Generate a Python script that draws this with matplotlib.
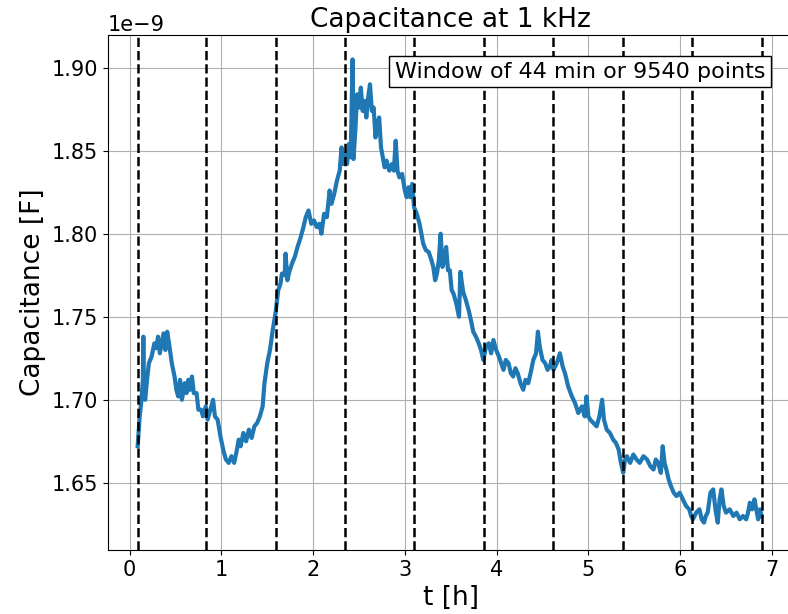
import matplotlib
matplotlib.use("Agg")
import matplotlib.pyplot as plt

# time in hours and capacitance in nF
t_h = [0.088, 0.11, 0.13, 0.145, 0.15, 0.155, 0.17, 0.19, 0.21, 0.24, 0.27, 0.29, 0.31, 0.33, 0.35,
       0.37, 0.39, 0.41, 0.43, 0.46, 0.49, 0.51, 0.53, 0.55, 0.57, 0.60, 0.62, 0.64, 0.66, 0.68,
       0.70, 0.73, 0.75, 0.78, 0.80, 0.83, 0.85, 0.88, 0.91, 0.93, 0.96, 0.99, 1.02, 1.05, 1.08,
       1.11, 1.14, 1.17, 1.19, 1.21, 1.24, 1.27, 1.30, 1.33, 1.36, 1.39, 1.42, 1.45, 1.47, 1.50,
       1.53, 1.56, 1.59, 1.62, 1.645, 1.66, 1.69, 1.70, 1.72, 1.74, 1.77, 1.80, 1.83, 1.86, 1.89,
       1.92, 1.95, 1.98, 2.01, 2.04, 2.07, 2.09, 2.12, 2.15, 2.18, 2.20, 2.23, 2.26, 2.29, 2.31,
       2.33, 2.35, 2.37, 2.39, 2.41, 2.43, 2.44, 2.46, 2.48, 2.50, 2.52, 2.54, 2.56, 2.58, 2.60,
       2.62, 2.64, 2.66, 2.68, 2.70, 2.72, 2.74, 2.76, 2.78, 2.80, 2.83, 2.86, 2.88, 2.90, 2.92,
       2.94, 2.97, 3.00, 3.02, 3.04, 3.06, 3.08, 3.10, 3.13, 3.16, 3.18, 3.20, 3.23, 3.26, 3.29,
       3.31, 3.33, 3.35, 3.37, 3.39, 3.41, 3.43, 3.45, 3.47, 3.49, 3.51, 3.53, 3.56, 3.59, 3.605,
       3.635, 3.665, 3.695, 3.72, 3.745, 3.775, 3.805, 3.83, 3.855, 3.885, 3.915, 3.94, 3.965, 3.995,
       4.025, 4.05, 4.075, 4.10, 4.13, 4.155, 4.18, 4.205, 4.23, 4.26, 4.29, 4.315, 4.345, 4.37,
       4.40, 4.43, 4.45, 4.47, 4.50, 4.53, 4.555, 4.58, 4.60, 4.62, 4.655, 4.69, 4.72, 4.745,
       4.78, 4.82, 4.855, 4.89, 4.93, 4.96, 4.98, 5.00, 5.02, 5.055, 5.09, 5.12, 5.15, 5.17, 5.20,
       5.235, 5.27, 5.30, 5.33, 5.355, 5.38, 5.40, 5.42, 5.455, 5.49, 5.525, 5.56, 5.60, 5.64, 5.675,
       5.71, 5.735, 5.76, 5.79, 5.81, 5.83, 5.85, 5.875, 5.90, 5.93, 5.96, 5.995, 6.03, 6.065, 6.10,
       6.12, 6.14, 6.175, 6.21, 6.235, 6.26, 6.28, 6.30, 6.33, 6.36, 6.385, 6.41, 6.43, 6.45, 6.475,
       6.50, 6.54, 6.58, 6.615, 6.65, 6.685, 6.72, 6.74, 6.76, 6.785, 6.81, 6.83, 6.85, 6.87, 6.887]

cap_nF = [1.672, 1.690, 1.700, 1.712, 1.738, 1.706, 1.700, 1.712, 1.722, 1.726, 1.734, 1.731, 1.738, 1.728, 1.734,
          1.740, 1.730, 1.741, 1.734, 1.722, 1.714, 1.706, 1.702, 1.712, 1.700, 1.710, 1.704, 1.712, 1.706, 1.714,
          1.704, 1.704, 1.694, 1.694, 1.690, 1.696, 1.688, 1.694, 1.700, 1.690, 1.688, 1.678, 1.670, 1.664, 1.662,
          1.666, 1.662, 1.670, 1.676, 1.672, 1.680, 1.675, 1.682, 1.677, 1.684, 1.686, 1.690, 1.696, 1.710, 1.722,
          1.730, 1.742, 1.752, 1.766, 1.770, 1.776, 1.775, 1.788, 1.772, 1.777, 1.782, 1.786, 1.792, 1.797, 1.803,
          1.810, 1.814, 1.806, 1.808, 1.804, 1.806, 1.800, 1.812, 1.810, 1.826, 1.818, 1.824, 1.832, 1.838, 1.852,
          1.842, 1.848, 1.842, 1.854, 1.846, 1.905, 1.845, 1.862, 1.884, 1.876, 1.888, 1.874, 1.880, 1.870, 1.882,
          1.890, 1.874, 1.876, 1.858, 1.866, 1.870, 1.852, 1.846, 1.840, 1.844, 1.838, 1.842, 1.838, 1.856, 1.838,
          1.834, 1.836, 1.826, 1.822, 1.828, 1.822, 1.830, 1.816, 1.812, 1.806, 1.800, 1.794, 1.790, 1.789, 1.784,
          1.780, 1.772, 1.776, 1.784, 1.800, 1.780, 1.784, 1.792, 1.778, 1.778, 1.766, 1.764, 1.758, 1.750, 1.777,
          1.765, 1.760, 1.754, 1.748, 1.741, 1.738, 1.734, 1.730, 1.724, 1.732, 1.734, 1.728, 1.736, 1.730,
          1.726, 1.722, 1.718, 1.724, 1.722, 1.716, 1.714, 1.719, 1.716, 1.710, 1.706, 1.712, 1.710, 1.716,
          1.724, 1.728, 1.741, 1.732, 1.724, 1.722, 1.718, 1.720, 1.724, 1.718, 1.722, 1.728, 1.720, 1.716,
          1.708, 1.702, 1.698, 1.692, 1.696, 1.690, 1.702, 1.690, 1.688, 1.686, 1.684, 1.690, 1.700, 1.688, 1.682,
          1.680, 1.676, 1.674, 1.670, 1.662, 1.656, 1.664, 1.666, 1.662, 1.667, 1.664, 1.662, 1.666, 1.664, 1.660,
          1.658, 1.664, 1.662, 1.656, 1.672, 1.662, 1.658, 1.652, 1.648, 1.644, 1.642, 1.644, 1.640, 1.636, 1.634,
          1.630, 1.628, 1.632, 1.634, 1.628, 1.626, 1.630, 1.632, 1.644, 1.646, 1.634, 1.626, 1.640, 1.646, 1.636,
          1.632, 1.634, 1.630, 1.632, 1.628, 1.630, 1.628, 1.632, 1.638, 1.634, 1.640, 1.634, 1.628, 1.634, 1.630]

# window boundaries (dashed lines), in hours
window_h = [0.088, 0.838, 1.594, 2.349, 3.099, 3.860, 4.615, 5.376, 6.132, 6.887]

fig = plt.figure(figsize=(7.88, 6.14), dpi=100)
ax = fig.add_axes([0.1365, 0.1042, 0.871, 0.8388])

ax.plot(t_h, [c * 1e-9 for c in cap_nF], color="#1f77b4", linewidth=3.0)
for x in window_h:
    ax.axvline(x, color="black", linestyle="--", linewidth=1.8)

ax.grid(True)
ax.set_title("Capacitance at 1 kHz", fontsize=19)
ax.set_xlabel("t [h]", fontsize=19)
ax.set_ylabel("Capacitance [F]", fontsize=19)
ax.tick_params(labelsize=15)
ax.yaxis.get_offset_text().set_fontsize(15)
ax.set_yticks([1.65e-9, 1.70e-9, 1.75e-9, 1.80e-9, 1.85e-9, 1.90e-9])
ax.set_ylim(1.6095e-9, 1.9197e-9)
ax.set_xlim(-0.24, 7.24)

ax.text(0.958, 0.948, "Window of 44 min or 9540 points", transform=ax.transAxes,
        ha="right", va="top", fontsize=16,
        bbox=dict(boxstyle="square,pad=0.25", facecolor="white", edgecolor="black"))

fig.savefig("out.png", dpi=100)
